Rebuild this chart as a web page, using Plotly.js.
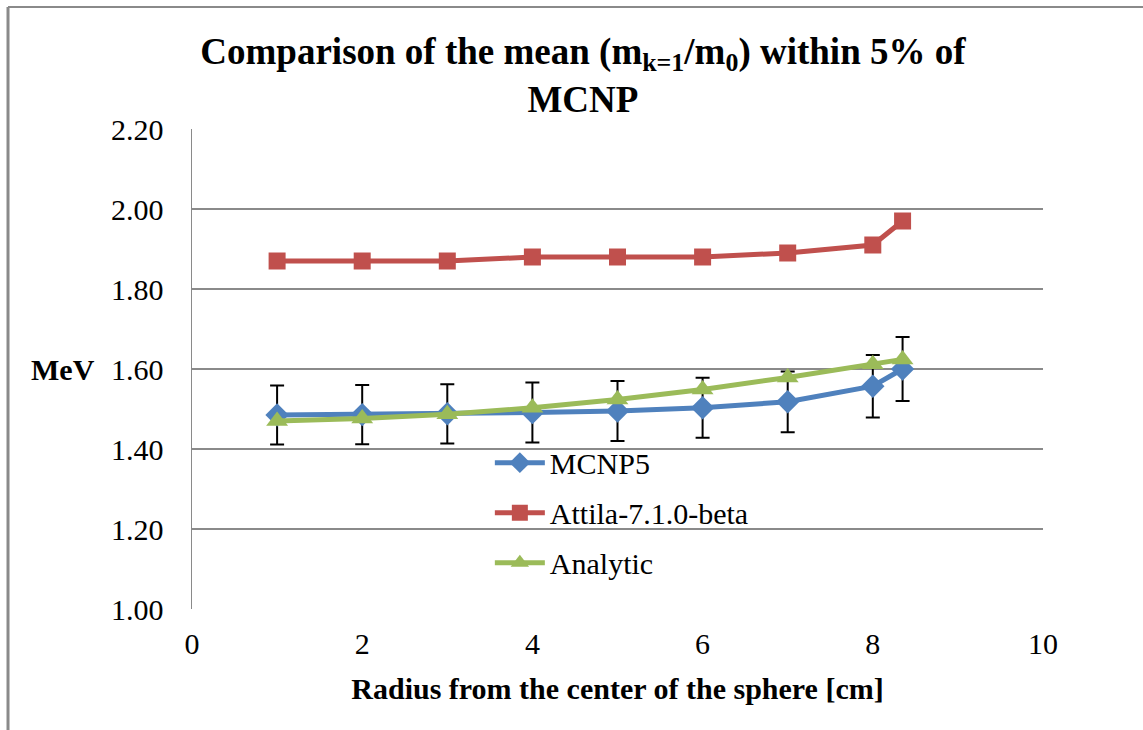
<!DOCTYPE html>
<html>
<head>
<meta charset="utf-8">
<script src="https://cdn.plot.ly/plotly-3.0.1.min.js"></script>
<style>html,body{margin:0;padding:0;background:#fff;}#chart{width:1143px;height:730px;}</style>
</head>
<body>
<div id="chart"></div>
<script>
// Data
var radius = [1, 2, 3, 4, 5, 6, 7, 8, 8.35];
var mcnp5 = [1.485, 1.486, 1.488, 1.491, 1.495, 1.503, 1.518, 1.557, 1.600];
var mcnp5Err = [0.074, 0.074, 0.074, 0.075, 0.075, 0.075, 0.076, 0.078, 0.080];
var attila = [1.87, 1.87, 1.87, 1.88, 1.88, 1.88, 1.89, 1.91, 1.97];
var analytic = [1.470, 1.476, 1.487, 1.503, 1.524, 1.549, 1.579, 1.612, 1.624];
var seriesNames = ["MCNP5", "Attila-7.1.0-beta", "Analytic"];
var xTicks = [0, 2, 4, 6, 8, 10];
var yTicks = [1.0, 1.2, 1.4, 1.6, 1.8, 2.0, 2.2];

var FONT = "Liberation Serif";

var traces = [
  {
    x: radius, y: mcnp5, name: seriesNames[0], type: "scatter", mode: "lines+markers",
    legendgroup: "a",
    line: {color: "#4F81BD", width: 5},
    marker: {symbol: "diamond", size: 18, color: "#4F81BD"},
    error_y: {type: "data", array: mcnp5Err, visible: true, color: "#000000", thickness: 2, width: 7}
  },
  {
    x: radius, y: attila, name: seriesNames[1], type: "scatter", mode: "lines+markers",
    legendgroup: "b",
    line: {color: "#C0504D", width: 5},
    marker: {symbol: "square", size: 17, color: "#C0504D"}
  },
  {
    x: radius, y: analytic, name: seriesNames[2], type: "scatter", mode: "lines+markers",
    legendgroup: "c",
    line: {color: "#9BBB59", width: 5},
    marker: {symbol: "triangle-up", size: 19, color: "#9BBB59"}
  }
];

var layout = {
  width: 1143, height: 730,
  paper_bgcolor: "#ffffff", plot_bgcolor: "#ffffff",
  margin: {l: 192, r: 100, t: 129, b: 121},
  font: {family: FONT, color: "#000000", size: 30},
  title: {
    text: "<b>Comparison of the mean (m<sub>k=1</sub>/m<sub>0</sub>) within 5% of<br>MCNP</b>",
    font: {family: FONT, size: 37, color: "#000000"},
    x: 0.51, xref: "container", xanchor: "center",
    y: 0.913, yref: "container", yanchor: "top"
  },
  xaxis: {
    range: [0, 10], tickvals: xTicks, ticktext: xTicks.map(String),
    showgrid: false, zeroline: false, showline: false, ticks: "",
    tickfont: {family: FONT, size: 30}, ticklabelstandoff: 14,
    title: {text: "<b>Radius from the center of the sphere [cm]</b>", font: {family: FONT, size: 30}, standoff: 18}
  },
  yaxis: {
    range: [1.0, 2.2], tickvals: yTicks, ticktext: yTicks.map(function(v){return v.toFixed(2);}),
    showgrid: true, gridcolor: "#8a8a8a", gridwidth: 1.5, zeroline: false,
    showline: true, linecolor: "#8a8a8a", linewidth: 1.5, ticks: "",
    tickfont: {family: FONT, size: 30}, ticklabelstandoff: 21
  },
  showlegend: true,
  legend: {
    x: 0.35, y: 0.359, xanchor: "left", yanchor: "top",
    bgcolor: "rgba(255,255,255,0)", borderwidth: 0,
    font: {family: FONT, size: 30, color: "#000000"},
    traceorder: "grouped", tracegroupgap: 8, itemwidth: 50
  },
  annotations: [
    {text: "<b>MeV</b>", xref: "paper", yref: "y", x: -0.152, y: 1.6, xanchor: "center", yanchor: "middle",
     showarrow: false, font: {family: FONT, size: 30, color: "#000000"}}
  ],
  shapes: [
    {type: "line", xref: "paper", yref: "paper", x0: -0.2162, x1: 1.2, y0: 1.254, y1: 1.254, line: {color: "#8a8a8a", width: 2}},
    {type: "line", xref: "paper", yref: "paper", x0: -0.2162, x1: -0.2162, y0: 1.254, y1: -0.26, line: {color: "#8a8a8a", width: 3}}
  ]
};

Plotly.newPlot("chart", traces, layout, {displayModeBar: false, staticPlot: true});
</script>
</body>
</html>
